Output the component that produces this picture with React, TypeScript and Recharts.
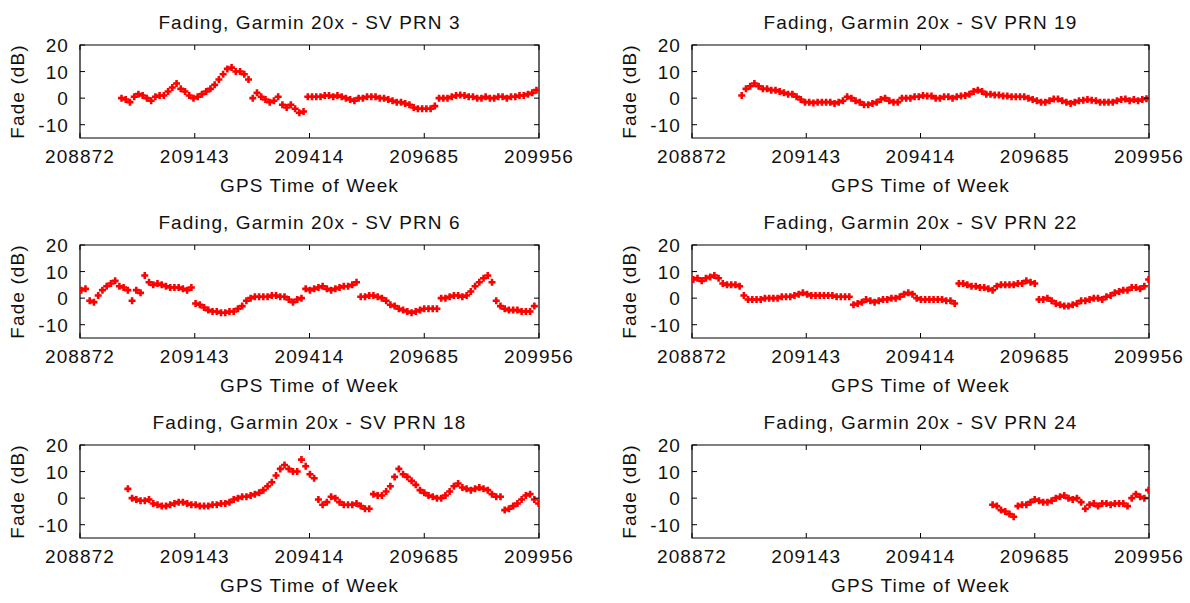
import React from 'react';
import { ScatterChart, Scatter, XAxis, YAxis, ReferenceArea } from 'recharts';

// GPS time of week axis and fade axis
const TOW_TICKS = [208872, 209143, 209414, 209685, 209956];
const FADE_TICKS = [-10, 0, 10, 20];
const TOW_DOMAIN: [number, number] = [208872, 209956];
const FADE_DOMAIN: [number, number] = [-15, 20];
const SAMPLE_STEP = 10; // seconds between plotted samples

const prnIds = [3, 19, 6, 22, 18, 24];
const prnStart = [208970, 208990, 208875, 208875, 208985, 209585];

const prn3Fade = [
  0, -0.5, -1.5, 0.5, 1.5, 1, 0, -1, 0.5, 1,
  1, 2.5, 4, 5.5, 3.5, 2.5, 1, 0, 0.5, 1.5,
  2.5, 3.5, 5, 7, 9, 11, 11.5, 10, 10, 9,
  7, 0, 2, 0.5, -0.5, -1.5, -1, 0.5, -2.5, -3.5,
  -2.5, -4, -5.5, -5, 0.5, 0.5, 0.5, 0.5, 1, 1,
  0.5, 1, 0.5, 0, -0.5, -1, 0, 0, 0.5, 0.5,
  0.5, 0, 0, -0.5, -1, -1.5, -1.5, -2, -2.5, -3.5,
  -4, -4, -4, -4, -3, 0, 0, 0, 0.5, 1,
  1.2, 1, 0.5, 0.5, 0, 0, 0.5, 0, 0, 0.5,
  0.5, 0, 0.5, 0.5, 1, 1, 1.5, 2, 3,
];

const prn19Fade = [
  1, 3.5, 4.5, 5.5, 4.5, 3.5, 3.5, 3, 3, 2.5,
  2, 1.5, 1.5, 0.5, -0.5, -1.5, -1.5, -1.8, -1.5, -1.5,
  -1.5, -1.5, -2, -1.5, -1, 0.5, 0, -1, -1.5, -2.5,
  -2.5, -2, -1.5, -0.5, 0, -1, -1.5, -1.5, 0, 0,
  0, 0.5, 0.5, 1, 0.8, 0.8, 0, 0, 0.5, 0.5,
  0, 0.5, 0.8, 1, 1.5, 2.5, 3, 2.5, 1.5, 1.5,
  1.2, 1.2, 0.8, 0.8, 0.5, 0.5, 0.5, 0.5, 0, -0.5,
  -1, -1.5, -1.5, -1, -0.3, -0.3, -1, -1.5, -2, -1.5,
  -1, -0.8, -0.5, -0.8, -1, -1.5, -1.5, -1.5, -1.5, -1,
  -0.5, -0.3, -1, -0.5, -1, -0.5, -0.2,
];

const prn6Fade = [
  3, 3.5, -1, -1.5, 1, 3, 4.5, 5.5, 6.5, 4.5,
  4, 3, -1, 3, 2, 8.5, 6, 5, 5.5, 5,
  4.5, 4, 4, 4, 3.5, 3, 4, -2, -2.5, -3.5,
  -4.5, -5, -5, -5.5, -5.5, -5, -5, -4, -3, -1,
  0, 0.5, 0.5, 0.5, 0.5, 1, 1, 0.5, 0.5, -0.5,
  -1.5, -0.5, 0, 3.5, 3, 3.5, 4, 4.5, 3.5, 3,
  3.5, 4, 4.5, 4.5, 5, 6, 0.5, 0.5, 1, 1,
  0.5, 0, -1, -2.5, -3, -4, -4.5, -5, -5.5, -5,
  -4.5, -4, -4, -4, -4, 0, 0, 0.5, 1, 1,
  0.5, 1, 2.5, 4.5, 6, 7.5, 8.5, 6, -1, -3,
  -4, -4.5, -4.5, -4.5, -5, -5, -5, -3,
];

const prn22Fade = [
  7, 7.5, 6.5, 7.5, 8, 8.5, 7.5, 5.5, 5, 5,
  5, 4.5, 1, -0.5, -0.5, -0.5, -0.5, 0, 0, 0,
  0, 0.5, 0.5, 0.5, 1, 1.5, 2, 1.5, 1, 1,
  1, 1, 1, 1, 0.5, 0.5, 0.5, 0.5, -2.5, -2,
  -1.5, -0.5, -1, -1.5, -1, -0.5, -0.5, 0, 0, 0.5,
  1.5, 2, 1.5, 0, -0.5, -0.5, -0.5, -0.5, -0.5, -0.5,
  -1, -1, -2, 5.5, 5.5, 5, 4.5, 4.5, 4, 4,
  3.5, 3, 4.5, 5, 5, 5, 5, 5.5, 5.5, 6.5,
  6, 5.5, -0.5, -0.5, 0, -1, -2, -2.5, -3, -3,
  -2.5, -2, -1, -1, -0.5, 0, 0, -0.5, 0.5, 1,
  2, 2.5, 3, 3, 4, 4, 3.5, 4.5, 7,
];

const prn18Fade = [
  3.5, 0, -0.5, -1, -1, -0.5, -2, -2.5, -3, -3,
  -2.5, -2, -1.5, -1.5, -2, -2.5, -2.5, -3, -3, -3,
  -2.5, -2.5, -2, -2, -1.5, -0.5, 0, 0.5, 0.5, 1,
  1.5, 2, 3, 4.5, 6, 8.5, 11, 12.5, 11, 10,
  10, 14.5, 12, 9, 7.5, -0.5, -2.5, -1.5, 0.5, 0,
  -1.5, -2.5, -2.5, -2.5, -2, -3, -4, -4, 1.5, 1,
  1, 2.5, 4.5, 8, 11, 9, 8, 6.5, 5, 3,
  2, 1, 0.5, 0, 0, 1, 2.5, 4.5, 5.5, 4,
  3.5, 3, 3.5, 4, 3.5, 3, 1.5, 0.5, 0.5, -4.5,
  -4, -3, -2, -0.5, 1, 1.5, -0.5, -2,
];

const prn24Fade = [
  -2.5, -3, -4.5, -5, -6, -7, -3, -2.5, -2.5, -1.5,
  -0.5, -1, -1.5, -1.5, -1, 0, 0.5, 1, 0, -0.5,
  0, -1.5, -4, -2.5, -2, -3, -2, -2, -2.5, -2,
  -2, -2, -3, 0, 1.5, 0.5, 0, 3,
];

const prnFade = [prn3Fade, prn19Fade, prn6Fade, prn22Fade, prn18Fade, prn24Fade];

const PANEL_W = 595;
const PANEL_H = 200;
const FONT = "'Liberation Sans', Arial, Helvetica, sans-serif";
const RED = '#ff0000';
const TEXT = { fontFamily: FONT, fontSize: 19, letterSpacing: 1.1, fill: '#111' };

interface PanelProps {
  prn: number;
  start: number;
  fade: number[];
  col: number;
  row: number;
}

const FadePanel: React.FC<PanelProps> = ({ prn, start, fade, col, row }) => {
  const left = col === 0 ? 80 : 97;
  const right = col === 0 ? 539 : 554;
  const top = 45;
  const bottom = 138;
  const data = fade.map((v, i) => ({ tow: start + i * SAMPLE_STEP, fade: v }));

  const xTick = (p: any) => (
    <g>
      <line x1={p.x} x2={p.x} y1={bottom} y2={bottom - 5} stroke="#000" />
      <line x1={p.x} x2={p.x} y1={top} y2={top + 5} stroke="#000" />
      <text x={p.x} y={bottom + 25} textAnchor="middle" {...TEXT}>
        {p.payload.value}
      </text>
    </g>
  );

  const yTick = (p: any) => (
    <g>
      <line x1={left} x2={left + 5} y1={p.y} y2={p.y} stroke="#000" />
      <line x1={right} x2={right - 5} y1={p.y} y2={p.y} stroke="#000" />
      <text x={left - 11} y={p.y + 7} textAnchor="end" {...TEXT}>
        {p.payload.value}
      </text>
    </g>
  );

  // gnuplot style "+" point, drawn fat so neighbouring samples merge into a band
  const plus = (p: any) => (
    <path
      d={`M${p.cx - 3.5},${p.cy}h7M${p.cx},${p.cy - 3.5}v7`}
      stroke={RED}
      strokeWidth={2.6}
      fill="none"
    />
  );

  const mid = (left + right) / 2;

  return (
    <div style={{ position: 'absolute', left: col * PANEL_W, top: row * PANEL_H, width: PANEL_W, height: PANEL_H }}>
      <ScatterChart
        width={PANEL_W}
        height={PANEL_H}
        margin={{ top, right: PANEL_W - right, bottom: PANEL_H - bottom - 30, left: left - 40 }}
      >
        <XAxis
          dataKey="tow"
          type="number"
          domain={TOW_DOMAIN}
          ticks={TOW_TICKS}
          interval={0}
          height={30}
          tickSize={0}
          tickMargin={0}
          axisLine={false}
          tickLine={false}
          tick={xTick}
          allowDataOverflow
        />
        <YAxis
          dataKey="fade"
          type="number"
          domain={FADE_DOMAIN}
          ticks={FADE_TICKS}
          interval={0}
          width={40}
          tickSize={0}
          tickMargin={0}
          axisLine={false}
          tickLine={false}
          tick={yTick}
          allowDataOverflow
        />
        <ReferenceArea
          x1={TOW_DOMAIN[0]}
          x2={TOW_DOMAIN[1]}
          y1={FADE_DOMAIN[0]}
          y2={FADE_DOMAIN[1]}
          fill="none"
          fillOpacity={0}
          stroke="#000"
          strokeWidth={1.2}
        />
        <Scatter data={data} shape={plus} isAnimationActive={false} />
      </ScatterChart>
      <svg
        width={PANEL_W}
        height={PANEL_H}
        style={{ position: 'absolute', left: 0, top: 0, pointerEvents: 'none' }}
      >
        <text x={mid} y={29} textAnchor="middle" {...TEXT}>
          {`Fading, Garmin 20x - SV PRN ${prn}`}
        </text>
        <text x={mid} y={bottom + 54} textAnchor="middle" {...TEXT}>
          GPS Time of Week
        </text>
        <text
          transform={`translate(${left - 56},${(top + bottom) / 2}) rotate(-90)`}
          textAnchor="middle"
          {...TEXT}
        >
          Fade (dB)
        </text>
      </svg>
    </div>
  );
};

export default function App() {
  return (
    <div style={{ position: 'absolute', left: 0, top: 0, width: 1190, height: 603, background: '#fff' }}>
      {prnIds.map((prn, i) => (
        <FadePanel
          key={prn}
          prn={prn}
          start={prnStart[i]}
          fade={prnFade[i]}
          col={i % 2}
          row={Math.floor(i / 2)}
        />
      ))}
    </div>
  );
}
